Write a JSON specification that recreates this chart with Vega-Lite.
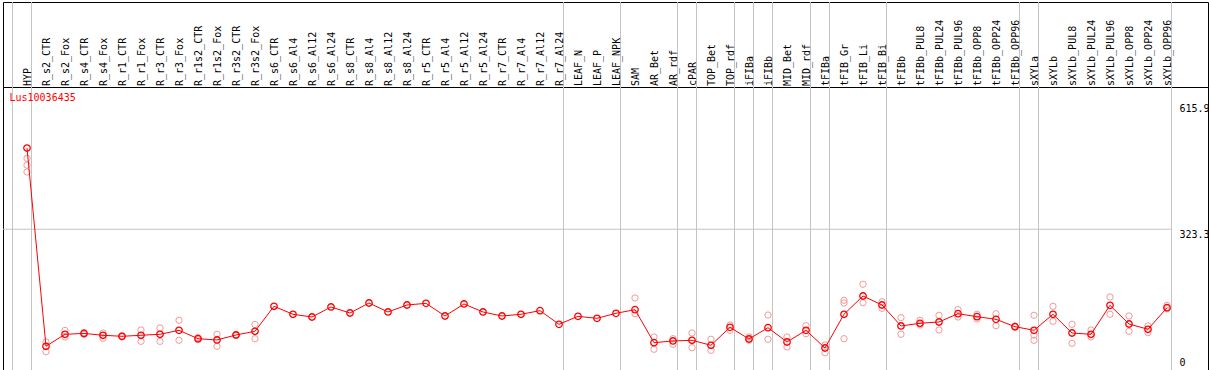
{
  "$schema": "https://vega.github.io/schema/vega-lite/v6.json",
  "padding": {"left": 2, "top": 1, "right": 2, "bottom": 1},
  "spacing": 0,
  "bounds": "flush",
  "config": {
    "view": {"stroke": "black", "strokeWidth": 1},
    "font": "DejaVu Sans Mono",
    "concat": {"spacing": 0}
  },
  "datasets": {
    "samples": [
      {"i": 1, "name": "HYP", "v": 513},
      {"i": 2, "name": "R_s2_CTR", "v": 50},
      {"i": 3, "name": "R_s2_Fox", "v": 78},
      {"i": 4, "name": "R_s4_CTR", "v": 80},
      {"i": 5, "name": "R_s4_Fox", "v": 75.7},
      {"i": 6, "name": "R_r1_CTR", "v": 73.3},
      {"i": 7, "name": "R_r1_Fox", "v": 75.7},
      {"i": 8, "name": "R_r3_CTR", "v": 78},
      {"i": 9, "name": "R_r3_Fox", "v": 87.3},
      {"i": 10, "name": "R_r1s2_CTR", "v": 67.7},
      {"i": 11, "name": "R_r1s2_Fox", "v": 64.7},
      {"i": 12, "name": "R_r3s2_CTR", "v": 76.4},
      {"i": 13, "name": "R_r3s2_Fox", "v": 85},
      {"i": 14, "name": "R_s6_CTR", "v": 143.4},
      {"i": 15, "name": "R_s6_Al4", "v": 124.7},
      {"i": 16, "name": "R_s6_Al12", "v": 118.4},
      {"i": 17, "name": "R_s6_Al24", "v": 141.8},
      {"i": 18, "name": "R_s8_CTR", "v": 127.7},
      {"i": 19, "name": "R_s8_Al4", "v": 151.1},
      {"i": 20, "name": "R_s8_Al12", "v": 130.1},
      {"i": 21, "name": "R_s8_Al24", "v": 146.4},
      {"i": 22, "name": "R_r5_CTR", "v": 150.3},
      {"i": 23, "name": "R_r5_Al4", "v": 120.7},
      {"i": 24, "name": "R_r5_Al12", "v": 148.8},
      {"i": 25, "name": "R_r5_Al24", "v": 130.1},
      {"i": 26, "name": "R_r7_CTR", "v": 120.7},
      {"i": 27, "name": "R_r7_Al4", "v": 124.7},
      {"i": 28, "name": "R_r7_Al12", "v": 133.2},
      {"i": 29, "name": "R_r7_Al24", "v": 101.3},
      {"i": 30, "name": "LEAF_N", "v": 119.9},
      {"i": 31, "name": "LEAF_P", "v": 115.3},
      {"i": 32, "name": "LEAF_NPK", "v": 127},
      {"i": 33, "name": "SAM", "v": 135.5},
      {"i": 34, "name": "AR_Bet", "v": 58.4},
      {"i": 35, "name": "AR_rdf", "v": 62.4},
      {"i": 36, "name": "cPAR", "v": 64},
      {"i": 37, "name": "TOP_Bet", "v": 52.3},
      {"i": 38, "name": "TOP_rdf", "v": 94.3},
      {"i": 39, "name": "iFIBa", "v": 67},
      {"i": 40, "name": "iFIBb", "v": 93.4},
      {"i": 41, "name": "MID_Bet", "v": 60},
      {"i": 42, "name": "MID_rdf", "v": 87.3},
      {"i": 43, "name": "tFIBa", "v": 46},
      {"i": 44, "name": "tFIB_Gr", "v": 124.7},
      {"i": 45, "name": "tFIB_Li", "v": 167.4},
      {"i": 46, "name": "tFIB_Bi", "v": 146.4},
      {"i": 47, "name": "tFIBb", "v": 97.4},
      {"i": 48, "name": "tFIBb_PUL8", "v": 103.7},
      {"i": 49, "name": "tFIBb_PUL24", "v": 106.7},
      {"i": 50, "name": "tFIBb_PUL96", "v": 126.1},
      {"i": 51, "name": "tFIBb_OPP8", "v": 119.1},
      {"i": 52, "name": "tFIBb_OPP24", "v": 113},
      {"i": 53, "name": "tFIBb_OPP96", "v": 95.8},
      {"i": 54, "name": "sXYLa", "v": 87.3},
      {"i": 55, "name": "sXYLb", "v": 124.7},
      {"i": 56, "name": "sXYLb_PUL8", "v": 81},
      {"i": 57, "name": "sXYLb_PUL24", "v": 78},
      {"i": 58, "name": "sXYLb_PUL96", "v": 145.7},
      {"i": 59, "name": "sXYLb_OPP8", "v": 102},
      {"i": 60, "name": "sXYLb_OPP24", "v": 89.7},
      {"i": 61, "name": "sXYLb_OPP96", "v": 140.1}
    ],
    "reps": [
      {"i": 1, "v": 489}, {"i": 1, "v": 473}, {"i": 1, "v": 457},
      {"i": 2, "v": 60}, {"i": 2, "v": 37.4},
      {"i": 3, "v": 87}, {"i": 3, "v": 71.7},
      {"i": 4, "v": 82}, {"i": 4, "v": 78},
      {"i": 5, "v": 81}, {"i": 5, "v": 68.7},
      {"i": 6, "v": 74.5}, {"i": 6, "v": 72},
      {"i": 7, "v": 88}, {"i": 7, "v": 61.6},
      {"i": 8, "v": 92.7}, {"i": 8, "v": 61.6},
      {"i": 9, "v": 110.7}, {"i": 9, "v": 64},
      {"i": 10, "v": 70}, {"i": 10, "v": 65.5},
      {"i": 11, "v": 78}, {"i": 11, "v": 50},
      {"i": 12, "v": 77.5}, {"i": 12, "v": 75},
      {"i": 13, "v": 101}, {"i": 13, "v": 67.7},
      {"i": 33, "v": 162.8}, {"i": 33, "v": 126.1},
      {"i": 34, "v": 71.7}, {"i": 34, "v": 43},
      {"i": 35, "v": 67.7}, {"i": 35, "v": 54.6},
      {"i": 36, "v": 81}, {"i": 36, "v": 46.7},
      {"i": 37, "v": 66.3}, {"i": 37, "v": 40.6},
      {"i": 38, "v": 99.7}, {"i": 38, "v": 87.3},
      {"i": 39, "v": 71.7}, {"i": 39, "v": 64},
      {"i": 40, "v": 123}, {"i": 40, "v": 66.3},
      {"i": 41, "v": 71.7}, {"i": 41, "v": 48.3},
      {"i": 42, "v": 98.1}, {"i": 42, "v": 79.4},
      {"i": 43, "v": 53}, {"i": 43, "v": 35},
      {"i": 44, "v": 157.4}, {"i": 44, "v": 151.1}, {"i": 44, "v": 67.7},
      {"i": 45, "v": 194.8}, {"i": 45, "v": 151.8},
      {"i": 46, "v": 154.1}, {"i": 46, "v": 138.7},
      {"i": 47, "v": 116.8}, {"i": 47, "v": 78},
      {"i": 48, "v": 110.7}, {"i": 48, "v": 99.7},
      {"i": 49, "v": 122.4}, {"i": 49, "v": 88},
      {"i": 50, "v": 135.5}, {"i": 50, "v": 118.4},
      {"i": 51, "v": 124.7}, {"i": 51, "v": 113.7},
      {"i": 52, "v": 126.1}, {"i": 52, "v": 98.1},
      {"i": 53, "v": 97}, {"i": 53, "v": 94.5},
      {"i": 54, "v": 122.4}, {"i": 54, "v": 76.4}, {"i": 54, "v": 64},
      {"i": 55, "v": 143.4}, {"i": 55, "v": 108.4},
      {"i": 56, "v": 101.3}, {"i": 56, "v": 57},
      {"i": 57, "v": 88}, {"i": 57, "v": 71.7},
      {"i": 58, "v": 165.1}, {"i": 58, "v": 124.7},
      {"i": 59, "v": 120.7}, {"i": 59, "v": 85},
      {"i": 60, "v": 97.4}, {"i": 60, "v": 81.7},
      {"i": 61, "v": 145.7}, {"i": 61, "v": 137.8}
    ],
    "seps": [
      {"after": 0}, {"after": 1}, {"after": 29}, {"after": 32}, {"after": 35},
      {"after": 36}, {"after": 38}, {"after": 39}, {"after": 40}, {"after": 42},
      {"after": 43}, {"after": 46}, {"after": 53}, {"after": 54}, {"after": 61}
    ],
    "levels": [{"v": 323.3}]
  },
  "vconcat": [
    {
      "width": 1205,
      "height": 85,
      "layer": [
        {
          "data": {"name": "seps"},
          "mark": {"type": "rule", "color": "#c4c4c4", "strokeWidth": 1, "xOffset": 4.5},
          "encoding": {
            "x": {"field": "after", "type": "quantitative", "scale": {"domain": [-0.263, 63.158], "nice": false, "zero": false}, "axis": null}
          }
        },
        {
          "data": {"name": "samples"},
          "mark": {"type": "text", "angle": 270, "align": "left", "baseline": "alphabetic", "dy": 4, "dx": 1, "font": "DejaVu Sans Mono", "fontSize": 10, "color": "black"},
          "encoding": {
            "x": {"field": "i", "type": "quantitative", "scale": {"domain": [-0.263, 63.158], "nice": false, "zero": false}, "axis": null},
            "y": {"value": "height"},
            "text": {"field": "name"}
          }
        }
      ]
    },
    {
      "width": 1205,
      "height": 283,
      "title": {"text": "Lus10036435", "color": "red", "font": "DejaVu Sans Mono", "fontSize": 10, "fontWeight": "normal", "anchor": "start", "orient": "top", "baseline": "top", "offset": -16, "dx": 7},
      "layer": [
        {
          "data": {"name": "seps"},
          "mark": {"type": "rule", "color": "#c4c4c4", "strokeWidth": 1, "xOffset": 4.5},
          "encoding": {
            "x": {"field": "after", "type": "quantitative", "scale": {"domain": [-0.263, 63.158], "nice": false, "zero": false}, "axis": null}
          }
        },
        {
          "data": {"name": "levels"},
          "mark": {"type": "rule", "color": "#c4c4c4", "strokeWidth": 1, "x2Offset": 4.5},
          "encoding": {
            "x": {"datum": -0.263, "type": "quantitative", "scale": {"domain": [-0.263, 63.158], "nice": false, "zero": false}, "axis": null},
            "x2": {"datum": 61},
            "y": {"field": "v", "type": "quantitative", "scale": {"domain": [-5.4, 655.5], "nice": false, "zero": false},
              "axis": {"orient": "right", "values": [0, 323.3, 615.9], "labelExpr": "datum.value == 0 ? '0' : format(datum.value, '.1f')", "offset": -29, "ticks": false, "tickSize": 0, "domain": false, "grid": false, "labelPadding": 0, "labelAlign": "left", "labelBaseline": {"condition": {"test": "datum.value == 0", "value": "bottom"}, "value": "top"}, "labelFont": "DejaVu Sans Mono", "labelFontSize": 10, "labelColor": "black", "labelFlush": false, "labelOverlap": false, "title": null}}
          }
        },
        {
          "data": {"name": "reps"},
          "mark": {"type": "point", "shape": "circle", "filled": false, "color": "#f29a9a", "size": 40, "strokeWidth": 1, "opacity": 1},
          "encoding": {
            "x": {"field": "i", "type": "quantitative", "scale": {"domain": [-0.263, 63.158], "nice": false, "zero": false}, "axis": null},
            "y": {"field": "v", "type": "quantitative", "scale": {"domain": [-5.4, 655.5], "nice": false, "zero": false},
              "axis": {"orient": "right", "values": [0, 323.3, 615.9], "labelExpr": "datum.value == 0 ? '0' : format(datum.value, '.1f')", "offset": -29, "ticks": false, "tickSize": 0, "domain": false, "grid": false, "labelPadding": 0, "labelAlign": "left", "labelBaseline": {"condition": {"test": "datum.value == 0", "value": "bottom"}, "value": "top"}, "labelFont": "DejaVu Sans Mono", "labelFontSize": 10, "labelColor": "black", "labelFlush": false, "labelOverlap": false, "title": null}}
          }
        },
        {
          "data": {"name": "samples"},
          "mark": {"type": "line", "color": "red", "strokeWidth": 1},
          "encoding": {
            "x": {"field": "i", "type": "quantitative", "scale": {"domain": [-0.263, 63.158], "nice": false, "zero": false}, "axis": null},
            "y": {"field": "v", "type": "quantitative", "scale": {"domain": [-5.4, 655.5], "nice": false, "zero": false},
              "axis": {"orient": "right", "values": [0, 323.3, 615.9], "labelExpr": "datum.value == 0 ? '0' : format(datum.value, '.1f')", "offset": -29, "ticks": false, "tickSize": 0, "domain": false, "grid": false, "labelPadding": 0, "labelAlign": "left", "labelBaseline": {"condition": {"test": "datum.value == 0", "value": "bottom"}, "value": "top"}, "labelFont": "DejaVu Sans Mono", "labelFontSize": 10, "labelColor": "black", "labelFlush": false, "labelOverlap": false, "title": null}}
          }
        },
        {
          "data": {"name": "samples"},
          "mark": {"type": "point", "shape": "circle", "filled": false, "color": "red", "size": 42, "strokeWidth": 1.3, "opacity": 1},
          "encoding": {
            "x": {"field": "i", "type": "quantitative", "scale": {"domain": [-0.263, 63.158], "nice": false, "zero": false}, "axis": null},
            "y": {"field": "v", "type": "quantitative", "scale": {"domain": [-5.4, 655.5], "nice": false, "zero": false},
              "axis": {"orient": "right", "values": [0, 323.3, 615.9], "labelExpr": "datum.value == 0 ? '0' : format(datum.value, '.1f')", "offset": -29, "ticks": false, "tickSize": 0, "domain": false, "grid": false, "labelPadding": 0, "labelAlign": "left", "labelBaseline": {"condition": {"test": "datum.value == 0", "value": "bottom"}, "value": "top"}, "labelFont": "DejaVu Sans Mono", "labelFontSize": 10, "labelColor": "black", "labelFlush": false, "labelOverlap": false, "title": null}}
          }
        }
      ]
    }
  ]
}
